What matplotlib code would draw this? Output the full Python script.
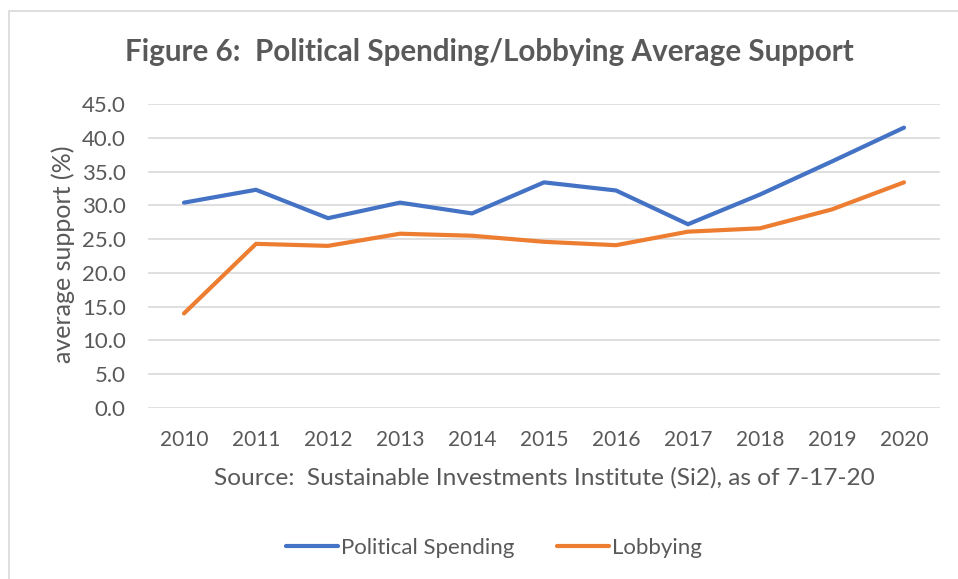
import matplotlib
matplotlib.use("Agg")
import matplotlib.pyplot as plt
from matplotlib.patches import Rectangle

# data
years = ['2010', '2011', '2012', '2013', '2014', '2015', '2016', '2017', '2018', '2019', '2020']
political_spending = [30.4, 32.3, 28.1, 30.4, 28.8, 33.4, 32.2, 27.2, 31.6, 36.5, 41.5]
lobbying = [14.0, 24.3, 24.0, 25.8, 25.5, 24.6, 24.1, 26.1, 26.6, 29.4, 33.4]
y_ticks = [0, 5, 10, 15, 20, 25, 30, 35, 40, 45]

TEXT = '#595959'
GRID = '#D9D9D9'
BLUE = '#4472C4'
ORANGE = '#ED7D31'

plt.rcParams['font.family'] = ['Lato', 'DejaVu Sans']

W, H = 958, 579
fig = plt.figure(figsize=(W / 100, H / 100), dpi=100)
fig.patch.set_facecolor('white')

# chart border (Excel chart area frame)
fig.patches.append(Rectangle((9 / W, -0.05), 1.1, 1 - 11 / H + 0.05, transform=fig.transFigure,
                             fill=False, edgecolor=GRID, linewidth=1.2))

ax = fig.add_axes([148 / W, 1 - 408 / H, (940 - 148) / W, (408 - 104) / H])
x = list(range(len(years)))
ax.plot(x, political_spending, color=BLUE, linewidth=3, solid_capstyle='round', label='Political Spending')
ax.plot(x, lobbying, color=ORANGE, linewidth=3, solid_capstyle='round', label='Lobbying')

ax.set_xlim(-0.5, len(years) - 0.5)
ax.set_ylim(0, 45)
ax.set_yticks(y_ticks)
ax.set_yticklabels([f'{v:.1f}' for v in y_ticks])
ax.set_xticks(x)
ax.set_xticklabels(years)
ax.tick_params(axis='both', length=0, labelcolor=TEXT)
ax.tick_params(axis='x', pad=16, labelsize=15)
ax.tick_params(axis='y', pad=16, labelsize=16)
ax.grid(axis='y', color=GRID, linewidth=1.2)
ax.set_axisbelow(True)
for s in ax.spines.values():
    s.set_visible(False)

fig.text(489 / W, 1 - 52 / H, 'Figure 6:  Political Spending/Lobbying Average Support',
         ha='center', va='center', fontsize=21.3, fontweight='bold', color=TEXT)
fig.text(63 / W, 1 - 254 / H, 'average support (%)', rotation=90,
         ha='center', va='center', fontsize=18, color=TEXT)
fig.text(544 / W, 1 - 478 / H, 'Source:  Sustainable Investments Institute (Si2), as of 7-17-20',
         ha='center', va='center', fontsize=17.6, color=TEXT)

leg = fig.legend(loc='center', bbox_to_anchor=(494 / W, 1 - 548 / H), ncol=2, frameon=False,
                 fontsize=16, handlelength=2.35, handletextpad=0.15, columnspacing=1.9)
for t in leg.get_texts():
    t.set_color(TEXT)

fig.savefig('out.png', dpi=100)
